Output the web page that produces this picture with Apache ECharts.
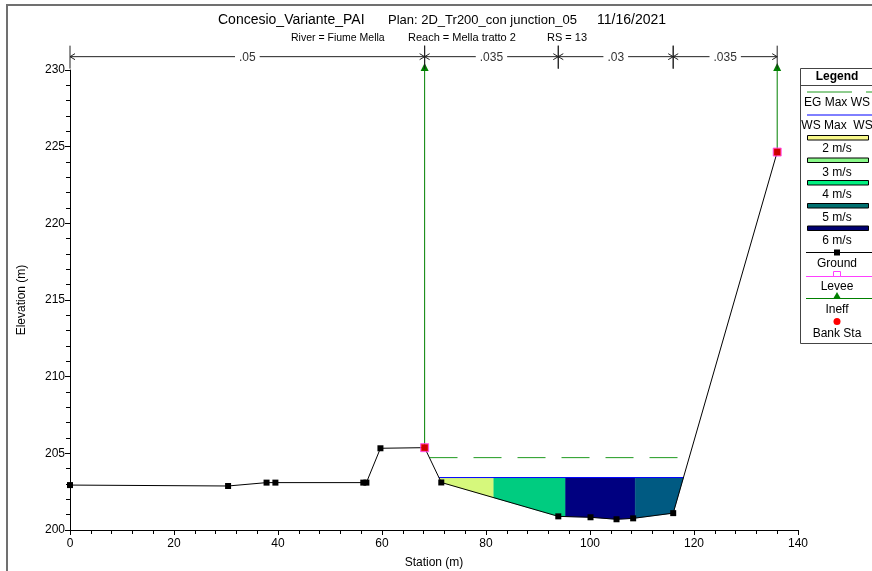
<!DOCTYPE html>
<html><head><meta charset="utf-8">
<script src="https://cdn.jsdelivr.net/npm/echarts@6/dist/echarts.min.js"></script>
<style>html,body{margin:0;padding:0;background:#fff}#c{width:872px;height:571px}</style>
</head><body><div id="c"></div>
<script>
// ---- data ----
const groundStation   = [0, 30.4, 37.8, 39.5, 56.4, 57.0, 59.7, 68.2, 71.4, 93.9, 100.1, 105.1, 108.3, 116.0, 136.0];
const groundElevation = [202.93, 202.87, 203.09, 203.09, 203.09, 203.09, 205.33, 205.37, 203.10, 200.89, 200.83, 200.70, 200.76, 201.10, 224.65];
const bankStation   = [68.2, 136.0];
const bankElevation = [205.37, 224.65];
const wsElevation = 203.42;           // WS Max WS
const wsStation   = [70.95, 117.97];
const egElevation = 204.72;           // EG Max WS
const egStation   = [69.14, 119.07];
const velocityBreaks = [81.5, 95.3, 108.7];
const velocityColors = ['#d6f87c', '#00cc80', '#000080', '#005a82'];
const ineffStation = [68.2, 136.0];
const ineffElevation = 230.2;
const manningStation = [0, 68.2, 93.9, 116.0, 136.0];
const manningValues  = ['.05', '.035', '.03', '.035'];
const manningElevation = 230.87;
const xTicks = {min: 0, max: 140, step: 20};
const yTicks = {min: 200, max: 230, step: 5};

const FONT = '"Liberation Sans", Arial, Helvetica, sans-serif';

function groundAt(s) {
  for (let i = 0; i < groundStation.length - 1; i++) {
    const a = groundStation[i], b = groundStation[i + 1];
    if (s >= a && s <= b) {
      const t = b === a ? 0 : (s - a) / (b - a);
      return groundElevation[i] + t * (groundElevation[i + 1] - groundElevation[i]);
    }
  }
  return groundElevation[groundElevation.length - 1];
}

const zoneBounds = [wsStation[0], ...velocityBreaks, wsStation[1]];
const zones = [];
for (let i = 0; i < zoneBounds.length - 1; i++) zones.push([zoneBounds[i], zoneBounds[i + 1], i]);
const manningSegs = [];
for (let i = 0; i < manningValues.length; i++) manningSegs.push([manningStation[i], manningStation[i + 1], i]);

const chart = echarts.init(document.getElementById('c'), null, {renderer: 'canvas'});

const axisCommon = {
  axisLine: {show: true, lineStyle: {color: '#000', width: 1}},
  axisTick: {show: true, length: 5, lineStyle: {color: '#000'}},
  minorTick: {show: true, splitNumber: 5, length: 4, lineStyle: {color: '#000'}},
  splitLine: {show: false},
  minorSplitLine: {show: false},
  nameTextStyle: {color: '#000', fontFamily: FONT, fontSize: 12},
};

const series = [];
// velocity fills
series.push({
  type: 'custom', z: 1, silent: true, data: zones,
  encode: {x: [0, 1]},
  renderItem(params, api) {
    const s0 = api.value(0), s1 = api.value(1), k = api.value(2);
    const pts = [[s0, wsElevation], [s1, wsElevation], [s1, groundAt(s1)]];
    for (let j = groundStation.length - 1; j >= 0; j--) {
      if (groundStation[j] < s1 && groundStation[j] > s0) pts.push([groundStation[j], groundElevation[j]]);
    }
    pts.push([s0, groundAt(s0)]);
    return {type: 'polygon', shape: {points: pts.map(p => api.coord(p))},
            style: {fill: velocityColors[k], stroke: velocityColors[k], lineWidth: 0.5}};
  }
});
// WS line
series.push({type: 'line', z: 3, silent: true, symbol: 'none',
  data: wsStation.map(s => [s, wsElevation]), lineStyle: {color: '#0000ff', width: 1}});
// EG line
series.push({type: 'line', z: 3, silent: true, symbol: 'none',
  data: egStation.map(s => [s, egElevation]), lineStyle: {color: '#1f9a1f', width: 1, type: [28, 16]}});
// ineffective flow
ineffStation.forEach(s => {
  series.push({type: 'line', z: 4, silent: true, clip: false,
    data: [{value: [s, groundAt(s)], symbol: 'none'}, {value: [s, ineffElevation], symbol: 'triangle', symbolSize: [8, 8]}],
    lineStyle: {color: '#008000', width: 1}, itemStyle: {color: '#008000'}, showAllSymbol: true});
});
// ground
series.push({type: 'line', z: 5, silent: true,
  data: groundStation.map((s, i) => [s, groundElevation[i]]),
  symbol: 'rect', symbolSize: 6, showAllSymbol: true,
  lineStyle: {color: '#000', width: 1}, itemStyle: {color: '#000'}});
// bank stations
series.push({type: 'scatter', z: 6, silent: true,
  data: bankStation.map((s, i) => [s, bankElevation[i]]),
  symbol: 'rect', symbolSize: 8, itemStyle: {color: '#ff0000', borderColor: '#ff40ff', borderWidth: 1}});
// manning's n
series.push({
  type: 'custom', z: 5, silent: true, clip: false, data: manningSegs,
  encode: {x: [0, 1]},
  renderItem(params, api) {
    const s0 = api.value(0), s1 = api.value(1), k = api.value(2);
    const p0 = api.coord([s0, manningElevation]), p1 = api.coord([s1, manningElevation]);
    const y = p0[1], c = '#222';
    const ah = 5, aw = 3;
    const children = [
      {type: 'line', shape: {x1: p0[0], y1: y, x2: p1[0], y2: y}, style: {stroke: c, lineWidth: 1}},
      {type: 'polyline', shape: {points: [[p0[0] + ah, y - aw], [p0[0], y], [p0[0] + ah, y + aw]]}, style: {stroke: c, fill: null, lineWidth: 1}},
      {type: 'polyline', shape: {points: [[p1[0] - ah, y - aw], [p1[0], y], [p1[0] - ah, y + aw]]}, style: {stroke: c, fill: null, lineWidth: 1}},
      {type: 'line', shape: {x1: p0[0], y1: y - 11, x2: p0[0], y2: y + 12}, style: {stroke: c, lineWidth: 1}},
      {type: 'line', shape: {x1: p1[0], y1: y - 11, x2: p1[0], y2: y + 12}, style: {stroke: c, lineWidth: 1}},
      {type: 'text', style: {text: manningValues[k], x: (p0[0] + p1[0]) / 2, y: y + 1, align: 'center', verticalAlign: 'middle',
        font: '12px ' + FONT, fill: '#333', backgroundColor: '#fff', padding: [0, 4]}}
    ];
    return {type: 'group', children};
  }
});

const legendItems = [];
function lt(text, y, bold) {
  legendItems.push({type: 'text', style: {text, x: 837, y, align: 'center', verticalAlign: 'middle',
    font: (bold ? 'bold ' : '') + '12px ' + FONT, fill: '#000'}});
}
legendItems.push({type: 'rect', shape: {x: 800.5, y: 68.5, width: 90, height: 275}, style: {fill: '#fff', stroke: '#444', lineWidth: 1}});
lt('Legend', 77, true);
legendItems.push({type: 'line', shape: {x1: 800, y1: 85.5, x2: 872, y2: 85.5}, style: {stroke: '#444', lineWidth: 1}});
legendItems.push({type: 'line', shape: {x1: 807, y1: 92, x2: 872, y2: 92}, style: {stroke: '#1f9a1f', lineWidth: 1, lineDash: [45, 14]}});
lt('EG Max WS', 103);
legendItems.push({type: 'line', shape: {x1: 807, y1: 115, x2: 872, y2: 115}, style: {stroke: '#0000ff', lineWidth: 1}});
lt('WS Max  WS', 126);
const swatchCols = ['#f8f88a', '#88f888', '#00f080', '#007070', '#000070'];
const swatchY = [135.5, 158, 180.5, 203.5, 226];
const swatchLbl = ['2 m/s', '3 m/s', '4 m/s', '5 m/s', '6 m/s'];
const swatchLblY = [149, 172.5, 195, 218, 241];
swatchCols.forEach((col, i) => {
  legendItems.push({type: 'rect', shape: {x: 807.5, y: swatchY[i], width: 61, height: 4.5}, style: {fill: col, stroke: '#000', lineWidth: 1}});
  lt(swatchLbl[i], swatchLblY[i]);
});
legendItems.push({type: 'line', shape: {x1: 806, y1: 252.5, x2: 872, y2: 252.5}, style: {stroke: '#000', lineWidth: 1}});
legendItems.push({type: 'rect', shape: {x: 834, y: 249.5, width: 6, height: 6}, style: {fill: '#000'}});
lt('Ground', 263.5);
legendItems.push({type: 'line', shape: {x1: 806, y1: 276.5, x2: 872, y2: 276.5}, style: {stroke: '#ff40ff', lineWidth: 1}});
legendItems.push({type: 'rect', shape: {x: 833.5, y: 271.5, width: 7, height: 5}, style: {fill: '#fff', stroke: '#ff40ff', lineWidth: 1}});
lt('Levee', 287);
legendItems.push({type: 'line', shape: {x1: 806, y1: 298.5, x2: 872, y2: 298.5}, style: {stroke: '#008000', lineWidth: 1}});
legendItems.push({type: 'polygon', shape: {points: [[837, 292], [833, 299], [841, 299]]}, style: {fill: '#008000'}});
lt('Ineff', 309.5);
legendItems.push({type: 'circle', shape: {cx: 837, cy: 321.5, r: 3.5}, style: {fill: '#ff0000'}});
lt('Bank Sta', 333.5);

chart.setOption({
  animation: false,
  backgroundColor: '#fff',
  grid: {left: 70, right: 74, top: 70, bottom: 41, containLabel: false, outerBoundsMode: 'none'},
  xAxis: Object.assign({type: 'value', min: xTicks.min, max: xTicks.max, interval: xTicks.step,
    axisLabel: {color: '#000', fontFamily: FONT, fontSize: 12, margin: 8},
    name: 'Station (m)', nameLocation: 'middle', nameGap: 27}, axisCommon),
  yAxis: Object.assign({type: 'value', min: yTicks.min, max: yTicks.max, interval: yTicks.step,
    axisLabel: {color: '#000', fontFamily: FONT, fontSize: 12, margin: 5},
    name: 'Elevation (m)', nameLocation: 'middle', nameGap: 42}, axisCommon),
  series,
  graphic: [
    {type: 'polyline', silent: true, shape: {points: [[7, 571], [7, 5], [872, 5]]}, style: {stroke: '#707070', lineWidth: 2, fill: null}},
    {type: 'text', silent: true, style: {text: 'Concesio_Variante_PAI', x: 218, y: 20, verticalAlign: 'middle', font: '14px ' + FONT, fill: '#000'}},
    {type: 'text', silent: true, style: {text: 'Plan: 2D_Tr200_con junction_05', x: 388, y: 20, verticalAlign: 'middle', font: '13px ' + FONT, fill: '#000'}},
    {type: 'text', silent: true, style: {text: '11/16/2021', x: 597, y: 20, verticalAlign: 'middle', font: '14px ' + FONT, fill: '#000'}},
    {type: 'text', silent: true, style: {text: 'River = Fiume Mella', x: 291, y: 38, verticalAlign: 'middle', font: '10.5px ' + FONT, fill: '#000'}},
    {type: 'text', silent: true, style: {text: 'Reach = Mella tratto 2', x: 408, y: 38, verticalAlign: 'middle', font: '11px ' + FONT, fill: '#000'}},
    {type: 'text', silent: true, style: {text: 'RS = 13', x: 547, y: 38, verticalAlign: 'middle', font: '11px ' + FONT, fill: '#000'}},
    {type: 'group', silent: true, children: legendItems}
  ]
});
</script>
</body></html>
